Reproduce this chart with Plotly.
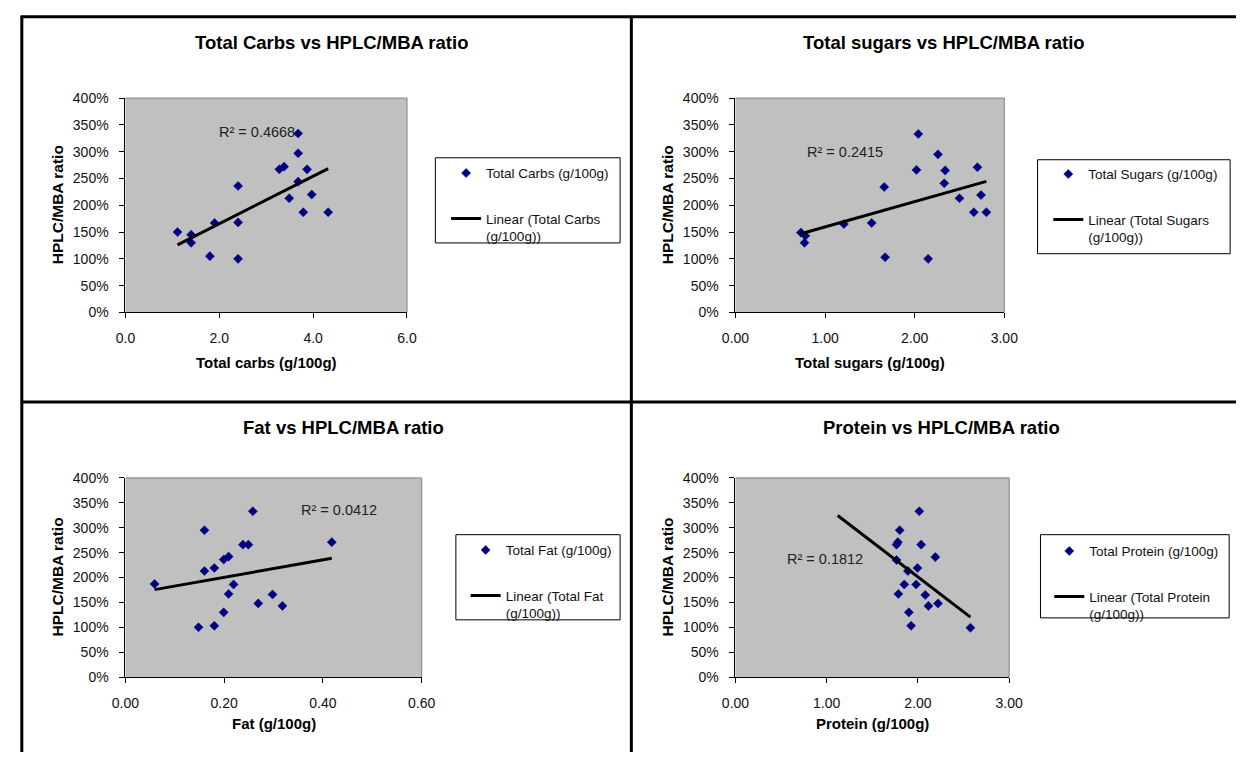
import numpy as np
import plotly.graph_objects as go

W, H = 1250, 760
FONT = "Liberation Sans, Arial, sans-serif"
NAVY = "#000080"
PLOT_BG = "#C0C0C0"

# ---- data: nutrient content (g/100g) against HPLC/MBA ratio ----
carbs = [1.11, 1.40, 1.40, 1.90, 1.80, 2.40, 2.40, 2.40, 3.28, 3.38,
         3.68, 3.68, 3.87, 3.68, 3.49, 3.97, 3.79, 4.32]
carbs_ratio = [1.50, 1.45, 1.30, 1.67, 1.05, 2.36, 1.68, 1.00, 2.67, 2.72,
               3.34, 2.97, 2.67, 2.44, 2.13, 2.20, 1.87, 1.87]

sugars = [0.73, 0.78, 0.77, 1.21, 1.52, 1.66, 1.67, 2.02, 2.04, 2.15,
          2.26, 2.34, 2.33, 2.50, 2.70, 2.74, 2.66, 2.80]
sugars_ratio = [1.49, 1.43, 1.30, 1.65, 1.67, 2.34, 1.03, 2.66, 3.33, 1.00,
                2.95, 2.65, 2.41, 2.13, 2.71, 2.19, 1.87, 1.87]

fat = [0.059, 0.160, 0.160, 0.180, 0.148, 0.180, 0.199, 0.209, 0.219, 0.209,
       0.199, 0.238, 0.249, 0.258, 0.269, 0.298, 0.318, 0.418]
fat_ratio = [1.87, 2.95, 2.13, 2.19, 1.00, 1.03, 2.36, 2.42, 1.86, 1.67,
             1.30, 2.66, 2.66, 3.33, 1.48, 1.66, 1.43, 2.71]

protein = [2.015, 1.80, 1.78, 1.765, 2.035, 2.19, 1.765, 1.995, 1.89, 1.85,
           1.98, 1.785, 2.08, 2.22, 2.115, 1.90, 1.925, 2.575]
protein_ratio = [3.33, 2.95, 2.71, 2.66, 2.66, 2.41, 2.35, 2.19, 2.13, 1.86,
                 1.86, 1.67, 1.65, 1.48, 1.43, 1.30, 1.03, 0.99]
protein_trend_start = 1.12

titles = ["Total Carbs vs HPLC/MBA ratio", "Total sugars vs HPLC/MBA ratio",
          "Fat vs HPLC/MBA ratio", "Protein vs HPLC/MBA ratio"]
x_titles = ["Total carbs (g/100g)", "Total sugars (g/100g)",
            "Fat (g/100g)", "Protein (g/100g)"]
series_names = ["Total Carbs (g/100g)", "Total Sugars (g/100g)",
                "Total Fat (g/100g)", "Total Protein (g/100g)"]
trend_names = ["Linear (Total Carbs<br>(g/100g))", "Linear (Total Sugars<br>(g/100g))",
               "Linear (Total Fat<br>(g/100g))", "Linear (Total Protein<br>(g/100g))"]
r2_labels = ["R² = 0.4668", "R² = 0.2415", "R² = 0.0412", "R² = 0.1812"]
x_ranges = [[0, 6], [0, 3], [0, 0.6], [0, 3]]
x_dticks = [2, 1, 0.2, 1]
x_formats = [".1f", ".2f", ".2f", ".2f"]
ratio_range = [0, 4]
ratio_dtick = 0.5

xs = [carbs, sugars, fat, protein]
ys = [carbs_ratio, sugars_ratio, fat_ratio, protein_ratio]
trend_starts = [None, None, None, protein_trend_start]


def fx(px):
    return px / W


def fy(py):
    return 1 - py / H


# pixel layout of each panel
panels = [
    dict(plot=(114, 402, 92, 311), title=(325, 35.5), ytitle=44, xtitle_y=362,
         legend=(442, 153), box=(431, 620, 153, 240), r2=(249, 127)),
    dict(plot=(738, 1013, 92, 311), title=(951, 35.5), ytitle=668, xtitle_y=362,
         legend=(1058, 154), box=(1047, 1244, 155, 251), r2=(850, 147)),
    dict(plot=(114, 417, 480, 683.5), title=(337, 428.5), ytitle=44, xtitle_y=731,
         legend=(462, 538), box=(452, 620, 538, 625), r2=(332, 513)),
    dict(plot=(738, 1018, 480, 683.5), title=(949, 428.5), ytitle=668, xtitle_y=731,
         legend=(1059, 539), box=(1050, 1243, 538, 623), r2=(830, 563)),
]

fig = go.Figure()
layout = dict(width=W, height=H, autosize=False, margin=dict(l=0, r=0, t=0, b=0, pad=0),
              paper_bgcolor="white", plot_bgcolor=PLOT_BG,
              font=dict(family=FONT, color="#111111"), showlegend=True)
annotations = []
shapes = []

for i, p in enumerate(panels):
    n = "" if i == 0 else str(i + 1)
    xa, ya = "x" + n, "y" + n
    leg = "legend" + n
    x0, x1, y0, y1 = p["plot"]

    layout["xaxis" + n] = dict(
        domain=[fx(x0), fx(x1)], range=x_ranges[i], dtick=x_dticks[i], tick0=0,
        tickformat=x_formats[i], anchor=ya, showline=True, linecolor="black",
        linewidth=1, ticks="outside", ticklen=5, tickcolor="black",
        showgrid=False, zeroline=False, ticklabelstandoff=8,
        tickfont=dict(size=14, family=FONT, color="#111111"))
    layout["yaxis" + n] = dict(
        domain=[fy(y1), fy(y0)], range=ratio_range, dtick=ratio_dtick, tick0=0,
        tickformat=".0%", anchor=xa, showline=True, linecolor="black",
        linewidth=1, ticks="outside", ticklen=5, tickcolor="black",
        showgrid=False, zeroline=False, ticklabelstandoff=8,
        tickfont=dict(size=14, family=FONT, color="#111111"))

    x = np.array(xs[i])
    y = np.array(ys[i])
    fig.add_trace(go.Scatter(
        x=x, y=y, mode="markers", name=series_names[i], xaxis=xa, yaxis=ya,
        legend=leg, legendgroup=f"pts{i}",
        marker=dict(symbol="diamond", size=7, color=NAVY,
                    line=dict(width=0.5, color=NAVY))))

    # least-squares linear trend line
    slope, intercept = np.polyfit(x, y, 1)
    start = x.min() if trend_starts[i] is None else trend_starts[i]
    tx = np.array([start, x.max()])
    fig.add_trace(go.Scatter(
        x=tx, y=slope * tx + intercept, mode="lines", name=trend_names[i],
        xaxis=xa, yaxis=ya, legend=leg, legendgroup=f"fit{i}",
        line=dict(color="black", width=3)))

    lx, ly = p["legend"]
    layout[leg] = dict(x=fx(lx), y=fy(ly), xanchor="left", yanchor="top",
                       bgcolor="rgba(0,0,0,0)", borderwidth=0,
                       font=dict(size=13.5, family=FONT, color="#111111"),
                       tracegroupgap=25, valign="top", itemclick=False,
                       itemdoubleclick=False)

    bx0, bx1, by0, by1 = p["box"]
    shapes.append(dict(type="rect", xref="paper", yref="paper",
                       x0=fx(bx0), x1=fx(bx1), y0=fy(by1), y1=fy(by0),
                       line=dict(color="black", width=1), fillcolor="white",
                       layer="below"))

    # grey plot-area border on the top and right edges
    shapes.append(dict(type="line", xref=xa + " domain", yref=ya + " domain",
                       x0=0, x1=1, y0=1, y1=1, line=dict(color="#808080", width=1)))
    shapes.append(dict(type="line", xref=xa + " domain", yref=ya + " domain",
                       x0=1, x1=1, y0=0, y1=1, line=dict(color="#808080", width=1)))

    tx_, ty_ = p["title"]
    annotations.append(dict(text=f"<b>{titles[i]}</b>", x=fx(tx_), y=fy(ty_),
                            xref="paper", yref="paper", showarrow=False,
                            xanchor="center", yanchor="middle",
                            font=dict(size=18.5, family=FONT, color="black")))
    annotations.append(dict(text="<b>HPLC/MBA ratio</b>", x=fx(p["ytitle"]),
                            y=fy((y0 + y1) / 2), xref="paper", yref="paper",
                            showarrow=False, textangle=-90,
                            xanchor="center", yanchor="middle",
                            font=dict(size=15.5, family=FONT, color="black")))
    annotations.append(dict(text=f"<b>{x_titles[i]}</b>", x=fx((x0 + x1) / 2),
                            y=fy(p["xtitle_y"]), xref="paper", yref="paper",
                            showarrow=False, xanchor="center", yanchor="middle",
                            font=dict(size=15, family=FONT, color="black")))
    rx, ry = p["r2"]
    annotations.append(dict(text=r2_labels[i], x=fx(rx), y=fy(ry),
                            xref="paper", yref="paper", showarrow=False,
                            xanchor="center", yanchor="middle",
                            font=dict(size=14.5, family=FONT, color="#222222")))

# outer frame and panel dividers
frame = [(7, 9, 1250, 9), (8, 8, 8, 760), (631.5, 8, 631.5, 760), (7, 402.5, 1250, 402.5)]
for (ax0, ay0, ax1, ay1) in frame:
    shapes.append(dict(type="line", xref="paper", yref="paper",
                       x0=fx(ax0), y0=fy(ay0), x1=fx(ax1), y1=fy(ay1),
                       line=dict(color="black", width=3)))

layout["annotations"] = annotations
layout["shapes"] = shapes
fig.update_layout(**layout)
fig.write_html("out.html", config={"responsive": False})
